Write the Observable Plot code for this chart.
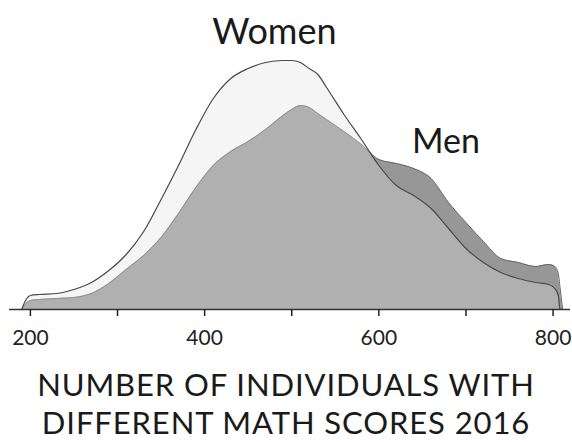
<!DOCTYPE html>
<html>
<head>
<meta charset="utf-8">
<script src="https://cdn.jsdelivr.net/npm/d3@7"></script>
<script src="https://cdn.jsdelivr.net/npm/@observablehq/plot@0.6"></script>
<style>
  html, body { margin: 0; padding: 0; background: #fff; }
  #wrap { width: 572px; height: 442px; position: relative; font-family: Lato, "Open Sans", sans-serif; }
  .title { position: absolute; left: 0; width: 572px; text-align: center; white-space: nowrap;
           font-size: 31px; line-height: 33px; height: 33px; color: #1a1a1a; letter-spacing: 0.9px; }
  #t1 { top: 368px; }
  #t2 { top: 406px; }
</style>
</head>
<body>
<div id="wrap">
  <div id="chart"></div>
  <div class="title" id="t1">NUMBER OF INDIVIDUALS WITH</div>
  <div class="title" id="t2">DIFFERENT MATH SCORES 2016</div>
</div>
<script>
// Math score positions (x)
const scores = [190,195,200,210,230,250,270,290,310,330,350,370,390,410,430,450,470,490,500,510,520,530,540,560,580,600,620,640,660,680,700,720,740,760,780,795,802,806,808,811];
// Number of individuals (relative units) per series
const women = [0,10,14,15,16,20,27,39,55,78,110,144,180,211,231,241,247,249,249,247,241,235,222,195,170,144,124,114,101,81,61,47,37,31,27,25,21,14,0,0];
const men   = [0,6,9,10,11,12,16,26,40,54,72,96,122,144,158,168,180,194,200,204,202,196,190,178,165,150,146,141,131,107,87,68,51,47,43,45,43,36,22,0];
// Axis ticks
const tickValues = [200,300,400,500,600,700,800];
const tickLabels = ["200","","400","","600","","800"];
// Series labels
const seriesLabels = [
  {name: "Women", score: 480, value: 266, size: 36},
  {name: "Men", score: 677, value: 157, size: 34}
];

const womenData = scores.map((s, i) => ({score: s, value: women[i]}));
const menData = scores.map((s, i) => ({score: s, value: men[i]}));

const chart = Plot.plot({
  width: 572,
  height: 360,
  marginTop: 59,
  marginBottom: 51,
  marginLeft: 9,
  marginRight: 2,
  style: {fontFamily: "Lato, 'Open Sans', sans-serif", background: "#fff", color: "#222"},
  x: {domain: [176, 820]},
  y: {domain: [0, 250], axis: null},
  marks: [
    Plot.areaY(menData, {x: "score", y: "value", curve: "monotone-x", fill: "#979797"}),
    Plot.lineY(menData, {x: "score", y: "value", curve: "monotone-x", stroke: "#666", strokeWidth: 1}),
    Plot.areaY(womenData, {x: "score", y: "value", curve: "monotone-x", fill: "#e1e1e1", fillOpacity: 0.34}),
    Plot.lineY(womenData, {x: "score", y: "value", curve: "monotone-x", stroke: "#4a4a4a", strokeWidth: 1.2}),
    Plot.ruleY([0], {stroke: "#333", strokeWidth: 1.6}),
    Plot.axisX({
      ticks: tickValues,
      tickFormat: (d) => tickLabels[tickValues.indexOf(d)],
      tickSize: 7,
      tickPadding: 14,
      fontSize: 21,
      strokeWidth: 1.5,
      label: null
    }),
    Plot.text(seriesLabels, {
      x: "score", y: "value", text: "name", fontSize: (d) => d.size,
      lineAnchor: "bottom", fill: "#1a1a1a"
    })
  ]
});
document.getElementById("chart").appendChild(chart);
</script>
</body>
</html>
